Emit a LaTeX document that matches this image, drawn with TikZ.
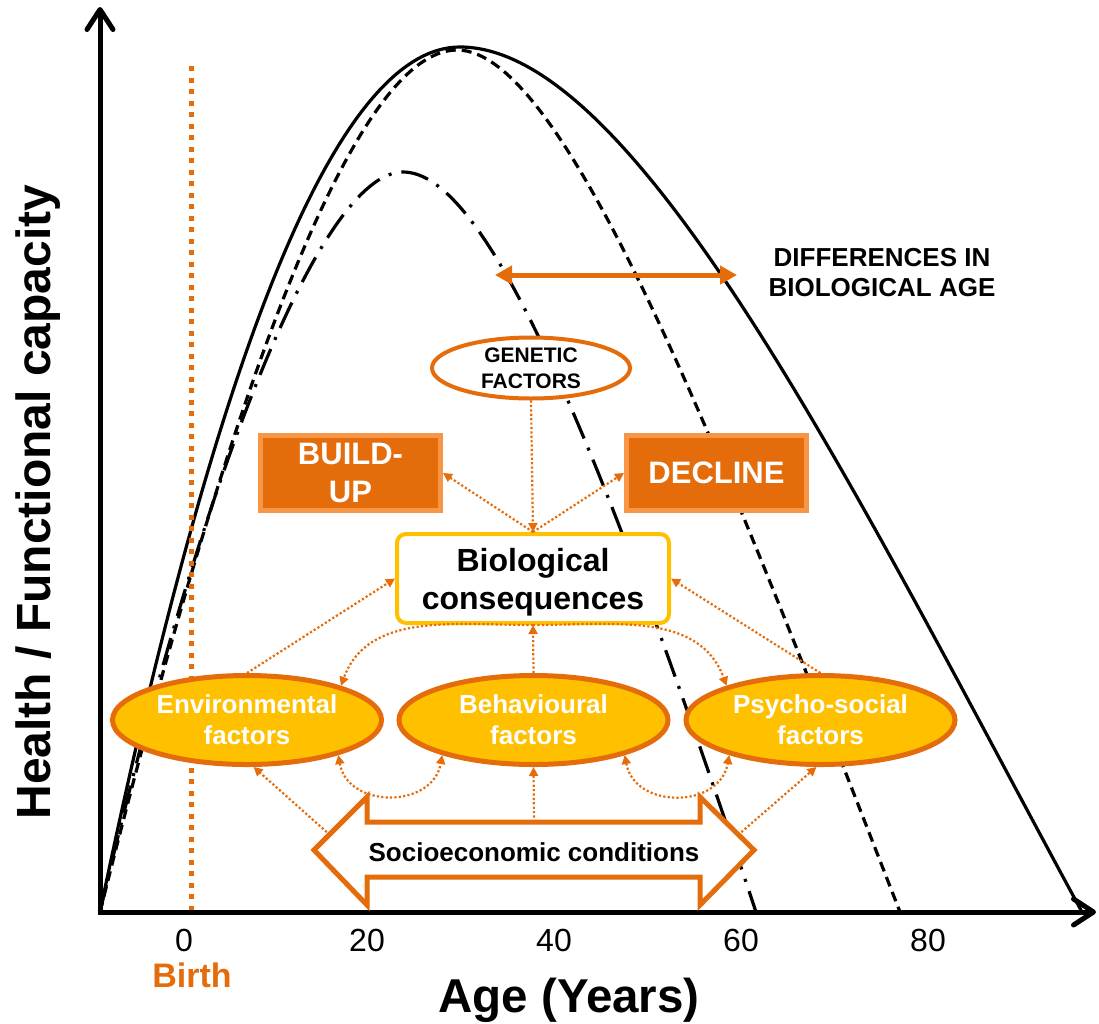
\documentclass[tikz,border=0pt]{standalone}
\usepackage{fontspec}
\setmainfont{Liberation Sans}
\usetikzlibrary{arrows.meta,shapes.geometric}
\definecolor{orng}{HTML}{E46C0A}
\definecolor{lorng}{HTML}{F79646}
\definecolor{gold}{HTML}{FFC000}
\newcommand\fsz[2]{\fontsize{#1pt}{#2pt}\selectfont}
\begin{document}
\begin{tikzpicture}[x=1pt,y=-1pt,
  solidcurve/.style={line width=3.2pt, line join=round},
  dashedcurve/.style={solidcurve, dash pattern=on 10pt off 6pt},
  dashdotcurve/.style={solidcurve, dash pattern=on 28pt off 10pt on 3pt off 10pt},
  axisline/.style={line width=5pt, -{Straight Barb[length=20pt,width=26pt,line cap=round,line join=round]}},
  orangebox/.style={rectangle, fill=orng, draw=lorng, line width=5pt, minimum width=180pt, minimum height=75pt, text=white, font=\bfseries\fsz{31}{38}, align=center, inner sep=0pt},
  factornode/.style={ellipse, fill=gold, draw=orng, line width=5pt, minimum width=269pt, minimum height=89pt, text=white, font=\bfseries\fsz{26}{31}, align=center, inner sep=0pt},
  biobox/.style={rectangle, rounded corners=9pt, fill=white, draw=gold, line width=4pt, minimum width=272pt, minimum height=89pt},
  genbox/.style={ellipse, fill=white, draw=orng, line width=4pt, minimum width=198pt, minimum height=61pt, font=\bfseries\fsz{21}{26}, align=center, inner sep=0pt},
  linkarrow/.style={orng, line width=2.2pt, dash pattern=on 2.2pt off 2.2pt, -{Triangle[length=9pt,width=9pt]}},
  linkboth/.style={orng, line width=2.2pt, dash pattern=on 2.2pt off 2.2pt, {Triangle[length=9pt,width=9pt]}-{Triangle[length=9pt,width=9pt]}},
  ticklabel/.style={anchor=base, font=\fsz{32}{38}}
]
\useasboundingbox (0,0) rectangle (1099,1023);

% curves
\draw[solidcurve] (100,912) .. controls (220,335) and (340,47) .. (460,47)
  .. controls (640,47) and (865,512) .. (1082,912);
\draw[dashedcurve] (100,912) .. controls (228,400) and (352,50) .. (457,50)
  .. controls (567,50) and (724.5,462) .. (900,912);
\draw[dashdotcurve] (100,912) .. controls (200,480) and (320,172) .. (403,172)
  .. controls (483,172) and (589.5,412) .. (756,912);

% birth line
\draw[orng, line width=5pt, dash pattern=on 5pt off 6.5pt] (191,66) -- (191,912);

% axes
\coordinate (origin) at (100,912);
\coordinate (ytip) at (100,7);
\coordinate (xtip) at (1096,912);
\draw[axisline] (100,914.5) -- (ytip);
\draw[axisline] (97.5,912) -- (xtip);

% axis labels
\node[ticklabel] (t0) at (184,951) {0};
\node[ticklabel] (t20) at (367,951) {20};
\node[ticklabel] (t40) at (554,951) {40};
\node[ticklabel] (t60) at (741,951) {60};
\node[ticklabel] (t80) at (928,951) {80};
\node[anchor=base, text=orng, font=\bfseries\fsz{34}{40}] (birth) at (192,987) {Birth};
\node[anchor=base, font=\bfseries\fsz{47.5}{52}] (xlabel) at (569,1012) {Age (Years)};
\node[anchor=base, rotate=90, font=\bfseries\fsz{48}{54}] (ylabel) at (50,502) {Health / Functional capacity};

% differences
\coordinate (dl) at (495,275);
\coordinate (dr) at (737,275);
\draw[orng, line width=5pt, {Triangle[length=17pt,width=18pt]}-{Triangle[length=17pt,width=18pt]}] (dl) -- (dr);
\node[align=center, font=\bfseries\fsz{26}{30}] (diff) at (882,273) {DIFFERENCES IN\\BIOLOGICAL AGE};

% boxes
\node[genbox] (gen) at (531,368) {GENETIC\\FACTORS};
\node[orangebox] (buildup) at (350.5,473) {BUILD-\\UP};
\node[orangebox] (decline) at (716.5,473) {DECLINE};
\node[biobox] (bio) at (533,578.5) {};
\node[align=center, font=\bfseries\fsz{32}{38}, inner sep=0pt] (biotext) at (533,582) {Biological\\consequences};
\node[factornode] (env) at (247,720) {Environmental\\factors};
\node[factornode] (beh) at (533.5,720) {Behavioural\\factors};
\node[factornode] (psy) at (820.5,720) {Psycho-social\\factors};

% socioeconomic double arrow
\draw[orng, line width=5pt, fill=white, line join=miter] (314,850) -- (367,797) -- (367,822) -- (700,822) -- (700,797) -- (754,850) -- (700,905) -- (700,877) -- (367,877) -- (367,905) -- cycle;
\node[font=\bfseries\fsz{26}{31}] (socio) at (534,852) {Socioeconomic conditions};
\coordinate (sT) at (534,822);
\coordinate (sL) at (330,835);
\coordinate (sR) at (738,835);

% connectors
\draw[linkarrow] (gen.south) -- (bio.north);
\draw[linkarrow] (bio.north) -- (buildup.east);
\draw[linkarrow] (bio.north) -- (decline.west);
\draw[linkarrow] (env.north) -- (bio.west);
\draw[linkarrow] (psy.north) -- (bio.east);
\draw[linkarrow] (beh.north) -- (bio.south);
\draw[linkarrow] (bio.south) to[out=180, in=70] (env.20);
\draw[linkarrow] (bio.south) to[out=0, in=110] (psy.160);
\draw[linkarrow] (sT) -- (beh.south);
\draw[linkarrow] (sL) -- (env.-82);
\draw[linkarrow] (sR) -- (psy.-95);
\draw[linkboth] (env.-21) to[out=-80, in=-100, looseness=1.35] (beh.-159);
\draw[linkboth] (beh.-21) to[out=-80, in=-100, looseness=1.35] (psy.-159);
\end{tikzpicture}
\end{document}
